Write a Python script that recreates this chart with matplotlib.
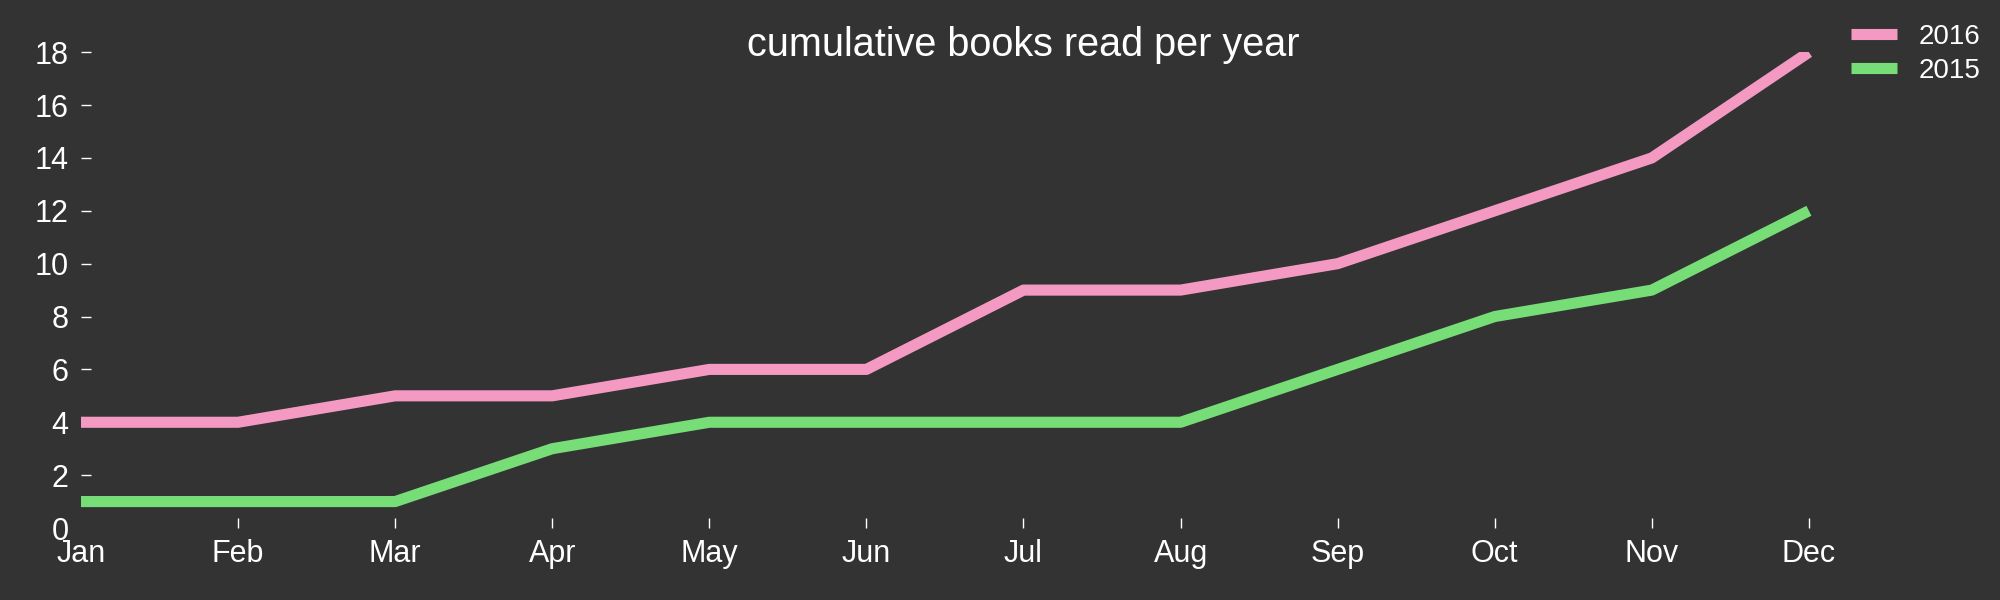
import matplotlib.pyplot as plt

months = ['Jan', 'Feb', 'Mar', 'Apr', 'May', 'Jun', 'Jul', 'Aug', 'Sep', 'Oct', 'Nov', 'Dec']
books_2016 = [4, 4, 5, 5, 6, 6, 9, 9, 10, 12, 14, 18]
books_2015 = [1, 1, 1, 3, 4, 4, 4, 4, 6, 8, 9, 12]

plt.rcParams['font.family'] = ['Liberation Sans', 'DejaVu Sans']
bg = '#333333'

fig = plt.figure(figsize=(20, 6), dpi=100, facecolor=bg)
# axis runs a bit past Dec so the title sits right of the data centre
ax = fig.add_axes([0.0405, 0.12, 0.9425, 0.793])
ax.set_facecolor(bg)

x = range(len(months))
ax.plot(x, books_2016, color='#f49ac2', linewidth=8, label='2016', solid_capstyle='butt')
ax.plot(x, books_2015, color='#77dd77', linewidth=8, label='2015', solid_capstyle='butt')

ax.set_xlim(0, 12)
ax.set_ylim(0, 18)
ax.set_xticks(list(x))
ax.set_xticklabels(months)
ax.set_yticks(range(0, 19, 2))
for s in ax.spines.values():
    s.set_visible(False)
ax.tick_params(colors='white', labelsize=22, direction='in', length=7, width=1)
ax.tick_params(axis='y', pad=9)
ax.tick_params(axis='x', pad=8)
ax.xaxis.get_major_ticks()[0].tick1line.set_visible(False)
ax.yaxis.get_major_ticks()[0].tick1line.set_visible(False)

ax.set_title('cumulative books read per year', color='white', fontsize=28.5, y=0.975)

leg = fig.legend(loc='upper left', bbox_to_anchor=(0.913, 1.002), frameon=False,
                 fontsize=20, handlelength=1.65, labelspacing=0.3)
for t in leg.get_texts():
    t.set_color('white')

plt.savefig('out.png', facecolor=bg)
